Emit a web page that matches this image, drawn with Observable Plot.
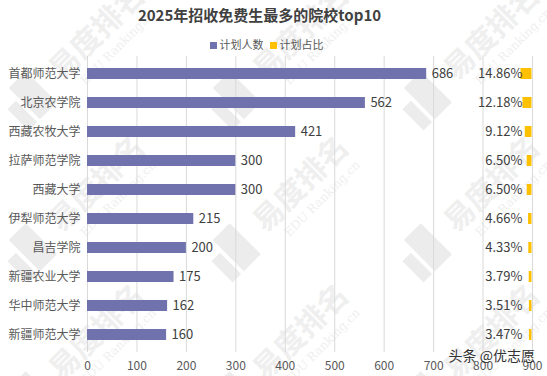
<!DOCTYPE html>
<html><head><meta charset="utf-8">
<script src="https://cdn.jsdelivr.net/npm/d3@7"></script>
<script src="https://cdn.jsdelivr.net/npm/@observablehq/plot@0.6"></script>
<style>
body{margin:0;background:#fff;font-family:"Noto Sans CJK SC","Noto Sans",sans-serif;}
#wrap{position:relative;width:547px;height:376px;overflow:hidden;}
#bg{position:absolute;top:0;left:0;}
#title{position:absolute;top:3px;left:-14px;width:547px;text-align:center;font-size:15px;font-weight:bold;color:#404040;line-height:24px;}
#legend{position:absolute;top:36px;left:-7px;width:547px;text-align:center;font-size:11px;color:#595959;line-height:16px;}
#legend span.sw{display:inline-block;width:7px;height:7px;margin-right:3px;vertical-align:0px;}
#legend span.it{margin:0 3px;}
#chart{position:absolute;top:55px;left:0;}
#wm{position:absolute;right:12px;top:345px;font-size:14px;color:#333;line-height:20px;}
</style></head>
<body><div id="wrap">
<svg id="bg" width="547" height="376"></svg>
<div id="title">2025年招收免费生最多的院校top10</div>
<div id="legend"><span class="it"><span class="sw" style="background:#7072AE"></span>计划人数</span><span class="it"><span class="sw" style="background:#FFC000"></span>计划占比</span></div>
<div id="chart"></div>
<div id="wm">头条 @优志愿</div>
</div>
<script>
const schools = ["首都师范大学","北京农学院","西藏农牧大学","拉萨师范学院","西藏大学","伊犁师范大学","昌吉学院","新疆农业大学","华中师范大学","新疆师范大学"];
const counts = [686,562,421,300,300,215,200,175,162,160];
const shares = [14.86,12.18,9.12,6.50,6.50,4.66,4.33,3.79,3.51,3.47];
const xTicks = [0,100,200,300,400,500,600,700,800,900];
const watermarkText = "易度排名";
const watermarkSub = "EDU Ranking.cn";

// faint tiled watermark
const bg = d3.select("#bg");
const wmCols = [30,234,425], wmRows = [98,250,398];
for (const cy of wmRows) for (const cx of wmCols) {
  const g = bg.append("g").attr("transform", `translate(${cx},${cy}) rotate(-45)`);
  g.append("polygon").attr("points","-24,-8 -12,-8 -12,22 -24,22").attr("fill","#ececec");
  g.append("polygon").attr("points","-8,-22 16,-22 16,22 -8,22").attr("fill","#ececec");
  g.append("text").attr("x",34).attr("y",11).attr("font-size",30).attr("font-weight","bold")
    .attr("font-family",'"Noto Sans CJK SC",sans-serif').attr("fill","#efefef").text(watermarkText);
  g.append("text").attr("x",48).attr("y",30).attr("font-size",12)
    .attr("font-family",'"DejaVu Serif",serif').attr("fill","#efefef").text(watermarkSub);
}

const data = schools.map((s,i)=>({school:s,count:counts[i],share:shares[i]}));
const xMax = 900, shareUnit = 1.5;

const chart = Plot.plot({
  width:547, height:321,
  marginLeft:87, marginRight:15, marginTop:1, marginBottom:24,
  style:{fontFamily:'"Noto Sans CJK SC","Noto Sans",sans-serif', fontSize:"12px", color:"#595959", background:"transparent"},
  x:{domain:[0,xMax], ticks:xTicks, label:null, tickSize:0, tickPadding:9, tickFormat:d=>String(d)},
  y:{domain:schools, label:null, tickSize:0, tickPadding:7, paddingInner:0.63, paddingOuter:0.315},
  marks:[
    Plot.ruleX(xTicks,{stroke:"#d9d9d9", strokeWidth:1}),
    Plot.barX(data,{y:"school", x1:0, x2:"count", fill:"#7072AE"}),
    Plot.barX(data,{y:"school", x1:d=>xMax-1 - d.share*shareUnit, x2:xMax-1, fill:"#FFC000"}),
    Plot.text(data,{y:"school", x:"count", text:d=>String(d.count), textAnchor:"start", dx:5, fill:"#404040", fontSize:13}),
    Plot.text(data,{y:"school", x:xMax, text:d=>d.share.toFixed(2)+"%", textAnchor:"end", dx:-10, fill:"#404040", fontSize:13})
  ]
});
document.getElementById("chart").appendChild(chart);
</script>
</body></html>
